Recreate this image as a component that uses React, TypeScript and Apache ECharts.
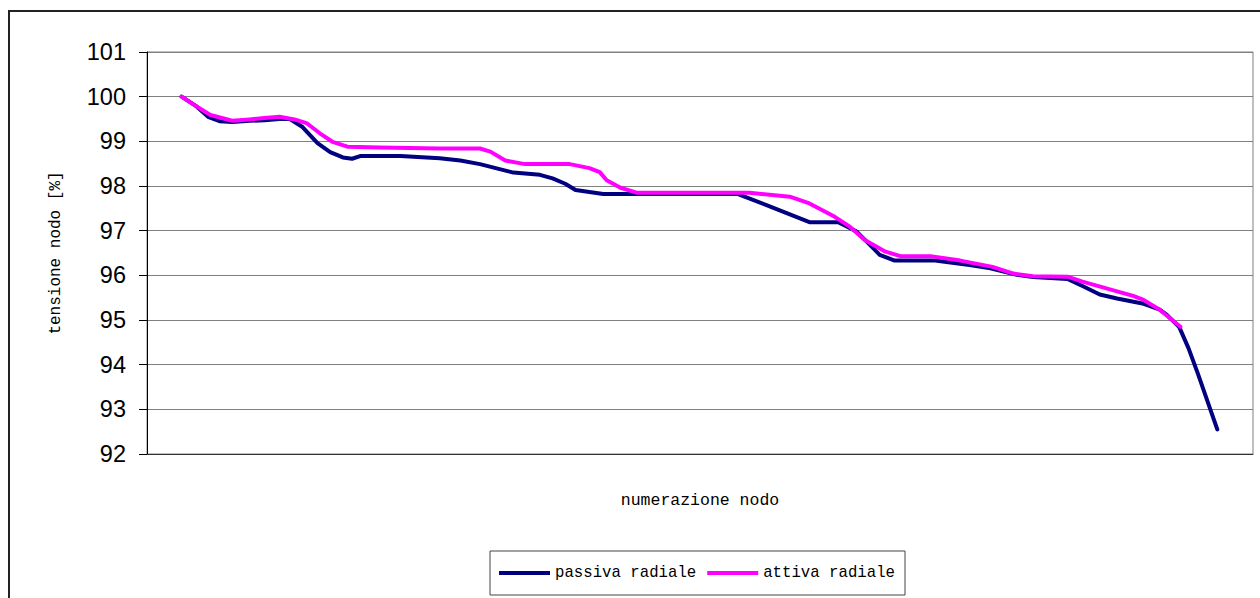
import React, { useEffect, useRef } from "react";
import * as echarts from "echarts";

// Node voltage profile along the feeder (percent of nominal)
const passivaNodi = [3.0, 4.2, 5.3, 6.3, 7.4, 8.9, 10.2, 11.5, 12.4, 13.5, 14.8, 15.9, 17.0, 17.8, 18.5, 22.0, 25.4, 27.2, 28.9, 31.8, 34.1, 35.2, 36.3, 37.2, 39.6, 51.3, 54.1, 57.5, 60.0, 61.6, 62.6, 63.6, 64.9, 68.4, 71.4, 73.2, 75.5, 76.9, 79.9, 81.2, 82.7, 84.2, 86.4, 87.9, 88.5, 89.6, 90.4, 91.2, 92.9];
const passivaTensione = [100.0, 99.8, 99.55, 99.45, 99.43, 99.46, 99.47, 99.5, 99.5, 99.32, 98.96, 98.76, 98.64, 98.61, 98.67, 98.67, 98.62, 98.57, 98.49, 98.3, 98.25, 98.17, 98.05, 97.91, 97.82, 97.82, 97.54, 97.19, 97.19, 96.98, 96.72, 96.46, 96.33, 96.33, 96.23, 96.16, 96.01, 95.96, 95.92, 95.76, 95.57, 95.48, 95.37, 95.23, 95.12, 94.84, 94.37, 93.81, 92.55];

const attivaNodi = [3.0, 4.2, 5.5, 7.4, 8.9, 10.2, 11.5, 12.8, 13.9, 15.0, 16.1, 17.4, 20.2, 25.4, 28.9, 29.8, 31.1, 32.8, 36.7, 38.4, 39.3, 39.9, 41.1, 42.5, 52.3, 55.8, 57.5, 59.7, 61.0, 62.3, 64.1, 65.4, 68.0, 70.6, 73.4, 75.2, 76.9, 79.9, 81.2, 84.2, 85.6, 86.5, 87.9, 89.7];
const attivaTensione = [100.0, 99.8, 99.59, 99.46, 99.49, 99.52, 99.55, 99.49, 99.4, 99.18, 98.99, 98.88, 98.86, 98.84, 98.84, 98.77, 98.57, 98.49, 98.49, 98.4, 98.31, 98.13, 97.96, 97.85, 97.85, 97.76, 97.61, 97.31, 97.09, 96.79, 96.53, 96.43, 96.43, 96.33, 96.19, 96.04, 95.98, 95.97, 95.86, 95.64, 95.54, 95.45, 95.23, 94.85];

const serieNomi = ["passiva radiale", "attiva radiale"];
const serieColori = ["#000080", "#FF00FF"];

const pairs = (xs: number[], ys: number[]) => xs.map((x, i) => [x, ys[i]]);

const monoFont = "'Liberation Mono', 'DejaVu Sans Mono', monospace";

export default function App() {
  const ref = useRef<HTMLDivElement>(null);

  useEffect(() => {
    if (!ref.current) return;
    const chart = echarts.init(ref.current, null, { renderer: "svg" });
    chart.setOption({
      animation: false,
      backgroundColor: "#ffffff",
      graphic: [
        {
          type: "rect",
          shape: { x: 9, y: 11, width: 1300, height: 700 },
          style: { fill: "none", stroke: "#222222", lineWidth: 2 },
          silent: true,
          z: -1,
        },
      ],
      grid: {
        left: 147,
        right: 7,
        top: 52,
        bottom: 144,
        show: true,
        borderColor: "#808080",
        borderWidth: 1,
        backgroundColor: "transparent",
      },
      xAxis: {
        type: "value",
        min: 0,
        max: 96,
        name: "numerazione nodo",
        nameLocation: "middle",
        nameGap: 38,
        nameTextStyle: { fontFamily: monoFont, fontSize: 16.5, color: "#000000" },
        axisLine: { show: true, lineStyle: { color: "#333333", width: 1 } },
        axisTick: { show: false },
        axisLabel: { show: false },
        splitLine: { show: false },
      },
      yAxis: {
        type: "value",
        min: 92,
        max: 101,
        interval: 1,
        name: "tensione nodo [%]",
        nameLocation: "middle",
        nameGap: 83,
        nameTextStyle: { fontFamily: monoFont, fontSize: 16, color: "#000000" },
        axisLine: { show: true, lineStyle: { color: "#000000", width: 1 } },
        axisTick: { show: true, inside: false, length: 8, lineStyle: { color: "#000000" } },
        axisLabel: {
          fontFamily: "'Liberation Sans', Arial, sans-serif",
          fontSize: 23.5,
          color: "#000000",
          margin: 21,
        },
        splitLine: { show: true, lineStyle: { color: "#808080", width: 1 } },
      },
      legend: {
        left: 490,
        top: 551,
        orient: "horizontal",
        icon: "rect",
        padding: [14, 10, 14, 9],
        itemWidth: 51,
        itemHeight: 4,
        itemGap: 11,
        borderColor: "#444444",
        borderWidth: 1,
        textStyle: { fontFamily: monoFont, fontSize: 15.7, color: "#000000" },
        data: serieNomi,
      },
      series: [
        {
          name: serieNomi[0],
          type: "line",
          data: pairs(passivaNodi, passivaTensione),
          showSymbol: false,
          symbol: "none",
          color: serieColori[0],
          itemStyle: { color: serieColori[0] },
          lineStyle: { color: serieColori[0], width: 4, join: "round", cap: "round" },
          z: 2,
        },
        {
          name: serieNomi[1],
          type: "line",
          data: pairs(attivaNodi, attivaTensione),
          showSymbol: false,
          symbol: "none",
          color: serieColori[1],
          itemStyle: { color: serieColori[1] },
          lineStyle: { color: serieColori[1], width: 4, join: "round", cap: "round" },
          z: 3,
        },
      ],
    });
    return () => chart.dispose();
  }, []);

  return (
    <div
      ref={ref}
      style={{ position: "absolute", left: 0, top: 0, width: 1260, height: 598 }}
    />
  );
}
